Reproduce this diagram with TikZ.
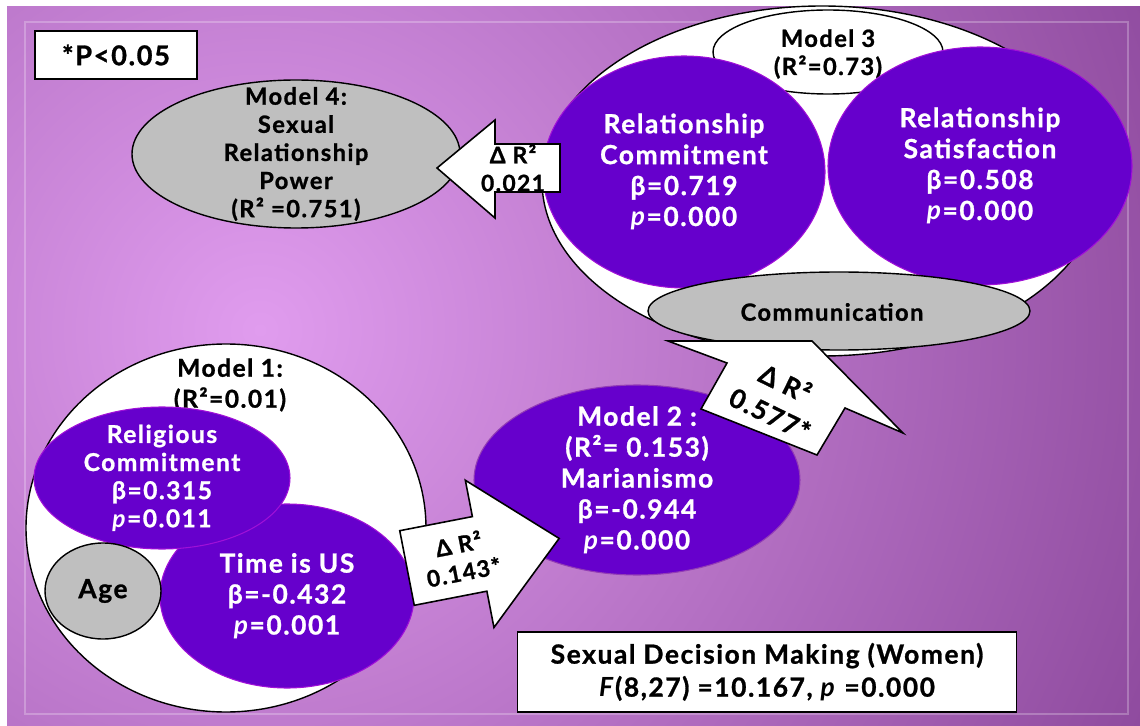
\documentclass[tikz,border=0pt]{standalone}
\usepackage{fontspec}
\setmainfont{Lato}[LetterSpace=6, BoldFeatures={FakeBold=1}]
\usetikzlibrary{shapes.geometric}

\definecolor{bgin}{HTML}{E09CEE}
\definecolor{bgout}{HTML}{8C489C}
\definecolor{deeppurple}{HTML}{6600CC}
\definecolor{purpline}{HTML}{A010D8}
\definecolor{greyfill}{HTML}{BFBFBF}

\tikzset{
  oval/.style 2 args={ellipse, inner sep=0pt, minimum width=#1*0.02cm, minimum height=#2*0.02cm},
  purpoval/.style={fill=deeppurple, draw=purpline, line width=0.6pt},
  greyoval/.style={fill=greyfill, draw=black, line width=0.8pt},
  whiteoval/.style={fill=white, draw=black, line width=0.8pt},
  wtxt/.style={text=white, align=center, font=\bfseries\fontsize{15}{17.6}\selectfont},
  wsmall/.style={text=white, align=center, font=\bfseries\fontsize{14}{16}\selectfont},
  btxt/.style={text=black, align=center, font=\bfseries\fontsize{13.5}{16}\selectfont},
  notebox/.style={draw=black, fill=white, line width=0.9pt, align=center},
  blockarrow/.style={fill=white, draw=black, line width=0.9pt, line join=miter},
}

\begin{document}
\begin{tikzpicture}[x=0.02cm, y=-0.02cm]
    \useasboundingbox (0,0) rectangle (1140,726);
    % background
    \fill[white] (0,0) rectangle (1140,726);
    \begin{scope}
        \clip (7,7) rectangle (1140,726);
        \shade[inner color=bgin, outer color=bgout] (260,330) circle (20cm);
    \end{scope}
    \draw[white, opacity=0.25, line width=1pt] (25,22) rectangle (1128,714);

    \node[notebox, minimum width=162*0.02cm, minimum height=48*0.02cm, font=\bfseries\fontsize{15.5}{16}\selectfont] (sig) at (116,55) {*P<0.05};

    % model 4
    \node[oval={328}{148}, greyoval] (m4) at (296,154) {};
    \node[btxt] (m4txt) at (m4) {Model 4:\\Sexual\\Relationship\\Power\\(R² =0.751)};

    % model 3
    \node[oval={560}{350}, whiteoval] (m3) at (822,181) {};
    \node[oval={230}{84}, whiteoval] (m3cap) at (828,52) {};
    \node[btxt] (m3txt) at (828,54) {Model 3\\(R²=0.73)};
    \node[oval={282}{232}, purpoval] (commit) at (684,172) {};
    \node[wtxt] (committxt) at (commit) {Relationship\\Commitment\\β=0.719\\\textit{p}=0.000};
    \node[oval={304}{238}, purpoval] (satis) at (980,166) {};
    \node[wtxt] (satistxt) at (satis) {Relationship\\Satisfaction\\β=0.508\\\textit{p}=0.000};
    \node[oval={382}{78}, greyoval] (comm) at (839,311) {};
    \node[btxt] (commtxt) at (832,312) {Communication};

    % delta R2 from model 3 to model 4
    \filldraw[blockarrow] (437,168) -- (495,120) -- (495,144) -- (560,144) -- (560,192) -- (495,192) -- (495,218) -- cycle;
    \node[btxt, font=\bfseries\fontsize{13}{16}\selectfont] (d3) at (513,168) {Δ R²\\0.021};

    % model 2
    \node[oval={326}{190}, purpoval, draw=purpline!60!gray] (m2) at (637,480) {};
    \node[wtxt] (m2txt) at (m2) {Model 2 :\\(R²= 0.153)\\Marianismo\\β=-0.944\\\textit{p}=0.000};

    % delta R2 from model 2 to model 3
    \filldraw[blockarrow] (668,341) -- (812,341) -- (903,433) -- (845,408) -- (817,455) -- (701,409) -- (727,363) -- cycle;
    \node[btxt, rotate=-26, font=\bfseries\fontsize{15}{19.5}\selectfont] (d2) at (778,398) {Δ R²\\0.577*};

    % model 1
    \node[oval={400}{368}, whiteoval] (m1) at (226,528) {};
    \node[btxt, font=\bfseries\fontsize{14}{17.6}\selectfont] (m1txt) at (230,385) {Model 1:\\(R²=0.01)};
    \node[oval={254}{184}, purpoval] (time) at (287,596) {};
    \node[wtxt] (timetxt) at (time) {Time is US\\β=-0.432\\\textit{p}=0.001};
    \node[oval={256}{142}, purpoval] (relig) at (162,478) {};
    \node[wsmall] (religtxt) at (relig) {Religious\\Commitment\\β=0.315\\\textit{p}=0.011};
    \node[oval={116}{96}, greyoval] (age) at (103,591) {};
    \node[btxt, font=\bfseries\fontsize{15}{16}\selectfont] (agetxt) at (age) {Age};

    % delta R2 from model 1 to model 2
    \begin{scope}[shift={(407,568)}, rotate=11]
        \filldraw[blockarrow] (0,-38) -- (74,-38) -- (74,-75) -- (155,0) -- (74,75) -- (74,38) -- (0,38) -- cycle;
        \node[btxt, rotate=11, font=\bfseries\fontsize{13}{16}\selectfont] (d1) at (55,0) {Δ R²\\0.143*};
    \end{scope}

    % outcome
    \node[notebox, minimum width=499*0.02cm, minimum height=80*0.02cm, font=\bfseries\fontsize{15}{18.8}\selectfont] (dv) at (767,672) {Sexual Decision Making (Women)\\\textit{F}(8,27) =10.167, \textit{p} =0.000};
\end{tikzpicture}
\end{document}
